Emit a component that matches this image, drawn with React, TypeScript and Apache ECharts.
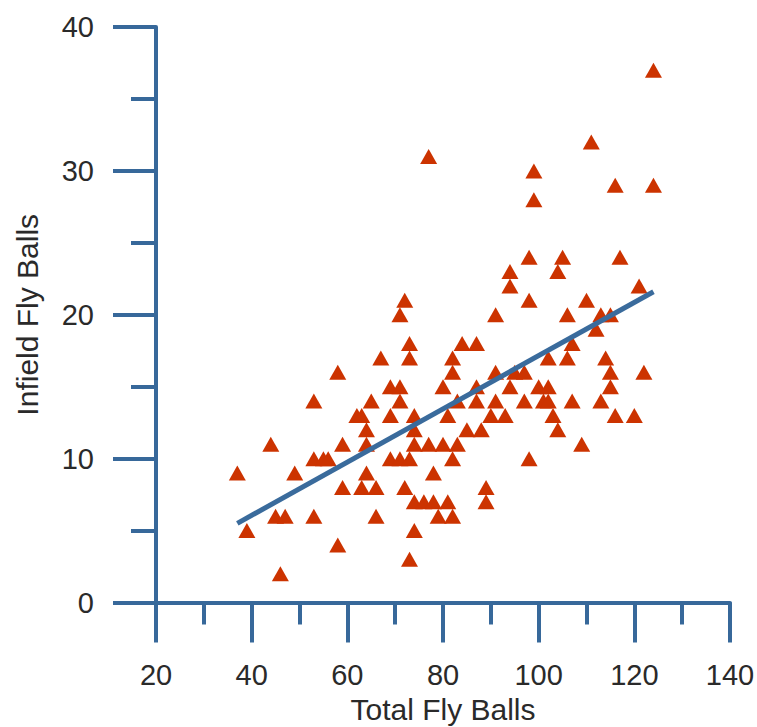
import React, { useEffect, useRef } from "react";
import * as echarts from "echarts";

const xTitle = "Total Fly Balls";
const yTitle = "Infield Fly Balls";

// [total fly balls, infield fly balls]
const points: number[][] = [
  [37, 9], [39, 5], [44, 11], [45, 6], [47, 6], [46, 2], [49, 9], [53, 14],
  [53, 6], [53, 10], [55, 10], [56, 10], [58, 16], [59, 11], [59, 8], [58, 4],
  [67, 17], [72, 21], [71, 20], [73, 18], [73, 17], [69, 15], [71, 15], [71, 14],
  [65, 14], [62, 13], [63, 13], [64, 12], [69, 13], [74, 13], [74, 12], [64, 11],
  [69, 10], [71, 10], [73, 10], [64, 9], [63, 8], [66, 8], [72, 8], [66, 6],
  [74, 7], [74, 5], [73, 3],
  [77, 31], [84, 18], [87, 18], [82, 17], [82, 16], [80, 15], [83, 14], [81, 13],
  [87, 15], [87, 14], [85, 12], [88, 12], [77, 11], [80, 11], [83, 11], [74, 11],
  [82, 10], [78, 9], [76, 7], [78, 7], [81, 7], [79, 6], [82, 6], [89, 8], [89, 7],
  [91, 16], [95, 16], [94, 15], [97, 16], [100, 15], [102, 15], [91, 14], [90, 13],
  [93, 13], [97, 14], [101, 14], [102, 14], [103, 13], [104, 12], [98, 10], [107, 14],
  [109, 11], [102, 17], [106, 17], [107, 18], [112, 19], [114, 17], [115, 16], [115, 15],
  [122, 16], [113, 14], [116, 13], [120, 13],
  [99, 30], [99, 28], [111, 32], [116, 29], [124, 29], [124, 37], [98, 24], [105, 24],
  [104, 23], [117, 24], [94, 23], [94, 22], [98, 21], [110, 21], [121, 22], [91, 20],
  [106, 20], [113, 20], [115, 20],
];

// fitted line end points
const fitX = [37, 124];
const fitY = [5.5, 21.6];

const AXIS = "#37689A";
const TEXT = "#2a2a2a";

export default function App() {
  const ref = useRef<HTMLDivElement>(null);
  useEffect(() => {
    if (!ref.current) return;
    const chart = echarts.init(ref.current, undefined, { renderer: "svg" });
    const font = "'Liberation Sans', Arial, sans-serif";
    chart.setOption({
      animation: false,
      backgroundColor: "#ffffff",
      grid: { left: 156, right: 27, top: 27, bottom: 124.5, containLabel: false, outerBoundsMode: "none" },
      xAxis: {
        type: "value",
        min: 20,
        max: 140,
        interval: 20,
        name: xTitle,
        nameLocation: "middle",
        nameGap: 92,
        nameTextStyle: { fontSize: 30, color: TEXT, fontFamily: font },
        axisLine: { show: true, onZero: false, lineStyle: { color: AXIS, width: 4 } },
        axisTick: { show: true, length: 40, lineStyle: { color: AXIS, width: 4 } },
        minorTick: { show: true, splitNumber: 2, length: 22, lineStyle: { color: AXIS, width: 4 } },
        splitLine: { show: false },
        axisLabel: { margin: 58, fontSize: 29, color: TEXT, fontFamily: font },
      },
      yAxis: {
        type: "value",
        min: 0,
        max: 40,
        interval: 10,
        name: yTitle,
        nameLocation: "middle",
        nameGap: 114,
        nameTextStyle: { fontSize: 30, color: TEXT, fontFamily: font },
        axisLine: { show: true, onZero: false, lineStyle: { color: AXIS, width: 4 } },
        axisTick: { show: true, length: 43, lineStyle: { color: AXIS, width: 4 } },
        minorTick: { show: true, splitNumber: 2, length: 25, lineStyle: { color: AXIS, width: 4 } },
        splitLine: { show: false },
        axisLabel: { margin: 62, fontSize: 29, color: TEXT, fontFamily: font },
      },
      series: [
        {
          type: "scatter",
          data: points,
          symbol: "triangle",
          symbolSize: [17, 15],
          itemStyle: { color: "#CC3300", opacity: 1 },
          z: 2,
        },
        {
          type: "line",
          data: fitX.map((x, i) => [x, fitY[i]]),
          symbol: "none",
          lineStyle: { color: "#3A6B9C", width: 5 },
          z: 3,
        },
      ],
    });
    return () => chart.dispose();
  }, []);
  return <div ref={ref} style={{ width: 757, height: 727, position: "absolute", left: 0, top: 0 }} />;
}
